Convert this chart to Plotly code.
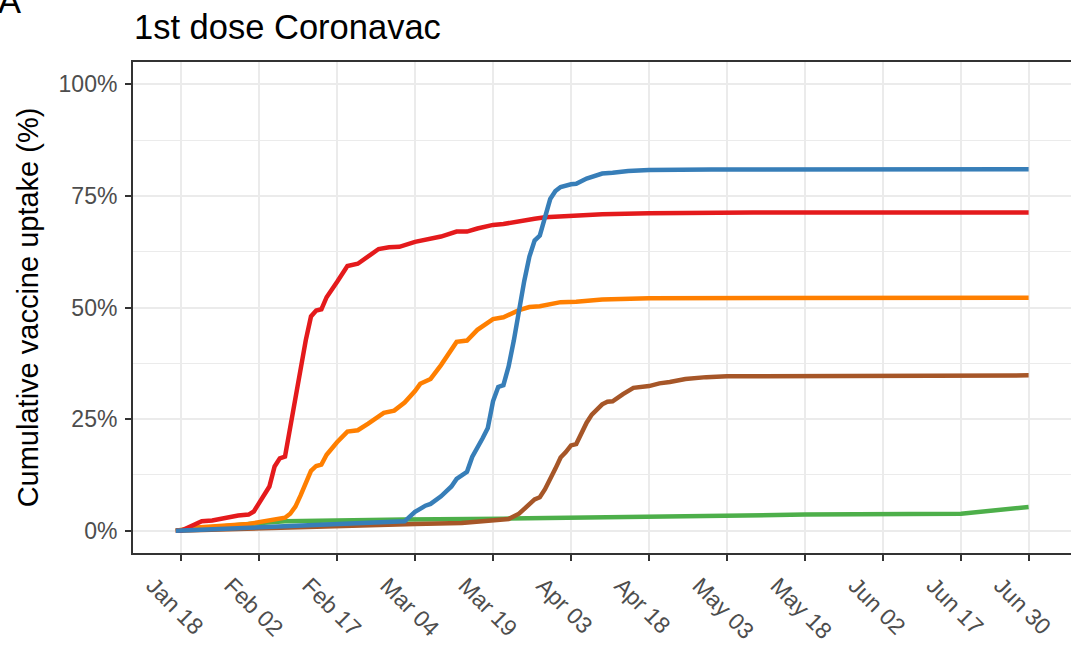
import pandas as pd
import plotly.graph_objects as go

START = pd.Timestamp("2021-01-18")

# Day offsets from Jan 18, 2021 and cumulative uptake (%)
red_days = [-1, 0, 4, 6, 11, 13, 14, 15, 16, 17, 18, 19, 20, 21, 22, 23, 24, 25, 26, 27, 28, 30, 31, 32,
            34, 36, 38, 40, 42, 45, 47, 48, 50, 53, 55, 57, 60, 62, 65, 68, 70, 75, 81, 90, 110, 163]
red_vals = [0, 0, 2.1, 2.3, 3.4, 3.6, 4.3, 6.2, 8.0, 9.9, 14.4, 16.2, 16.6, 23.4, 29.2, 35.8, 42.7, 48.0,
            49.3, 49.6, 52.3, 55.7, 57.7, 59.3, 59.8, 61.5, 63.1, 63.5, 63.6, 64.7, 65.2, 65.2, 65.9, 67.0,
            67.0, 67.7, 68.5, 68.7, 69.4, 69.9, 70.2, 70.5, 70.9, 71.1, 71.3, 71.3]

blue_days = [-1, 3, 15, 26, 43, 45, 47, 48, 50, 52, 53, 55, 56, 58, 59, 60, 61, 62, 63, 64, 65, 66, 67,
             68, 69, 70, 71, 72, 73, 75, 76, 78, 81, 83, 86, 90, 102, 163]
blue_vals = [0, 0.2, 0.7, 1.5, 2.1, 4.2, 5.6, 6.0, 7.7, 9.9, 11.6, 13.2, 16.5, 20.7, 23.0, 29.0, 32.2,
             32.6, 36.8, 42.6, 49.5, 55.9, 61.4, 65.0, 66.1, 70.7, 74.3, 76.1, 77.0, 77.6, 77.7, 78.9,
             80.0, 80.2, 80.6, 80.8, 80.9, 81.0]

orange_days = [-1, 3, 13, 20, 21, 22, 23, 24, 25, 26, 27, 28, 30, 32, 34, 36, 39, 41, 43, 45, 46, 48,
               50, 53, 55, 57, 60, 62, 65, 67, 69, 73, 76, 81, 90, 163]
orange_vals = [0, 0.7, 1.5, 2.9, 3.8, 5.4, 7.9, 10.8, 13.4, 14.5, 14.8, 17.0, 19.8, 22.2, 22.5, 24.0,
               26.4, 26.9, 28.7, 31.3, 32.9, 34.0, 37.1, 42.3, 42.6, 45.0, 47.4, 47.8, 49.4, 50.1, 50.3,
               51.2, 51.3, 51.8, 52.1, 52.2]

brown_days = [-1, 26, 45, 54, 60, 63, 65, 67, 68, 69, 70, 72, 73, 74, 75, 76, 77, 78, 79, 81, 82, 83,
              85, 87, 90, 92, 94, 96, 97, 101, 105, 163]
brown_vals = [0, 1.0, 1.5, 1.7, 2.2, 2.6, 3.8, 5.8, 7.0, 7.5, 9.3, 13.9, 16.4, 17.6, 19.1, 19.4, 21.8,
              24.2, 26.0, 28.3, 28.9, 29.0, 30.6, 32.0, 32.4, 33.0, 33.3, 33.9, 34.0, 34.4, 34.6, 34.8]

green_days = [-1, 3, 13, 20, 29, 43, 62, 77, 81, 90, 120, 150, 155, 158, 160, 163]
green_vals = [0, 0.5, 1.5, 2.1, 2.3, 2.5, 2.7, 2.9, 3.1, 3.3, 3.6, 3.8, 4.3, 4.7, 4.9, 5.3]

tick_dates = ["2021-01-18", "2021-02-02", "2021-02-17", "2021-03-04", "2021-03-19", "2021-04-03",
              "2021-04-18", "2021-05-03", "2021-05-18", "2021-06-02", "2021-06-17", "2021-06-30"]
tick_labels = ["Jan 18", "Feb 02", "Feb 17", "Mar 04", "Mar 19", "Apr 03",
               "Apr 18", "May 03", "May 18", "Jun 02", "Jun 17", "Jun 30"]

y_ticks = [0, 25, 50, 75, 100]
y_labels = ["0%", "25%", "50%", "75%", "100%"]

series = [
    ("green", green_days, green_vals, "#4DAF4A"),
    ("brown", brown_days, brown_vals, "#A65628"),
    ("orange", orange_days, orange_vals, "#FF7F00"),
    ("red", red_days, red_vals, "#E41A1C"),
    ("blue", blue_days, blue_vals, "#377EB8"),
]

FONT = "Liberation Sans, Arial, Helvetica, sans-serif"

fig = go.Figure()
for name, days, vals, color in series:
    dates = START + pd.to_timedelta(days, unit="D")
    fig.add_trace(go.Scatter(x=dates, y=vals, mode="lines", name=name,
                             line=dict(color=color, width=4.5), showlegend=False))

x0 = START + pd.Timedelta(days=-9.23)
x1 = START + pd.Timedelta(days=171.15)

fig.update_layout(
    width=1071, height=649, autosize=False,
    margin=dict(l=133, r=0, t=62, b=96),
    paper_bgcolor="white", plot_bgcolor="white",
    font=dict(family=FONT, color="black"),
    title=dict(text="1st dose Coronavac", font=dict(size=34.5, color="black", family=FONT),
               x=134 / 1071, xanchor="left", xref="container",
               y=1 - 27 / 649, yanchor="middle", yref="container"),
    showlegend=False,
)

fig.update_xaxes(
    range=[x0, x1], type="date",
    tickmode="array", tickvals=tick_dates, ticktext=tick_labels,
    tickangle=45, tickfont=dict(size=23, color="#4D4D4D", family=FONT),
    ticks="outside", ticklen=6, tickwidth=2, tickcolor="#333333",
    showgrid=True, gridcolor="#EBEBEB", gridwidth=2,
    showline=True, linecolor="#333333", linewidth=2, mirror=True,
    zeroline=False, ticklabelshift=-28, ticklabelstandoff=2,
)

fig.update_yaxes(
    range=[-5, 105],
    tickmode="array", tickvals=y_ticks, ticktext=y_labels,
    tickfont=dict(size=23, color="#4D4D4D", family=FONT),
    ticks="outside", ticklen=6, tickwidth=2, tickcolor="#333333",
    showgrid=True, gridcolor="#EBEBEB", gridwidth=2,
    minor=dict(tickmode="array", tickvals=[12.5, 37.5, 62.5, 87.5], showgrid=True,
               gridcolor="#EBEBEB", gridwidth=1, ticks=""),
    showline=True, linecolor="#333333", linewidth=2, mirror=False,
    zeroline=False, ticklabelstandoff=3,
    title=dict(text="Cumulative vaccine uptake (%)", font=dict(size=29, color="black", family=FONT),
               standoff=11),
)

fig.add_annotation(text="A", xref="paper", yref="paper", x=(9 - 133) / 938, y=(553 - 22) / 491,
                   xanchor="center", yanchor="bottom", showarrow=False,
                   font=dict(size=34.5, color="black", family=FONT))

fig.write_html("out.html",
               config={"responsive": False, "displayModeBar": False},
               post_script="document.body.style.margin='0';document.body.style.overflow='hidden';")
